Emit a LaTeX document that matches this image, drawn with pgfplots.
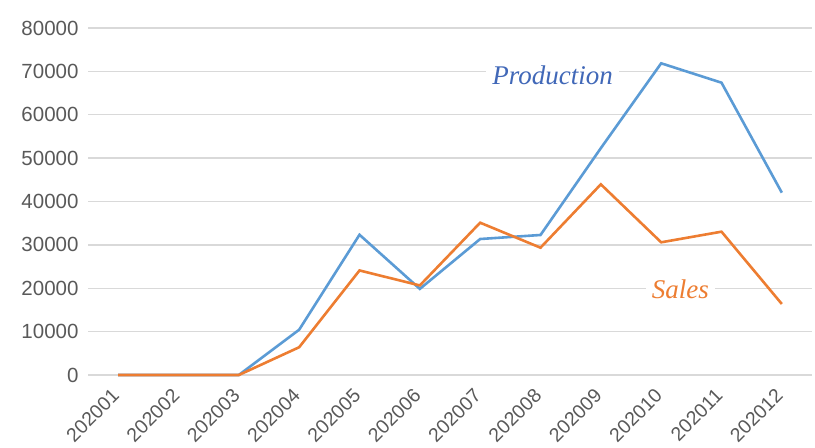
\documentclass[border=0pt]{standalone}
\usepackage{pgfplots}
\pgfplotsset{compat=1.18}
\usepackage{fontspec}
\setmainfont{Liberation Sans}
\newfontfamily\serifit{Liberation Serif}
\definecolor{prodc}{HTML}{5B9BD5}
\definecolor{salec}{HTML}{ED7D31}
\definecolor{prodlab}{HTML}{4168B8}
\definecolor{gridc}{HTML}{D9D9D9}
\definecolor{tickc}{HTML}{595959}
\begin{document}
\begin{tikzpicture}
\begin{axis}[
  scale only axis,
  width=724pt, height=347pt,
  xmin=-0.5, xmax=11.5,
  ymin=0, ymax=80000,
  ytick={0,10000,...,80000},
  xtick={0,...,11},
  xticklabels={202001,202002,202003,202004,202005,202006,202007,202008,202009,202010,202011,202012},
  axis line style={draw=none},
  major tick length=0pt,
  ymajorgrids,
  grid style={gridc, line width=1.3pt},
  scaled y ticks=false,
  /pgf/number format/assume math mode=true,
  yticklabel={\pgfmathprintnumber[fixed,use comma=false,1000 sep={}]{\tick}},
  ticklabel style={font=\fontsize{20.5}{24}\selectfont, text=tickc},
  yticklabel style={xshift=-6pt},
  xticklabel style={xshift=0pt, yshift=-15pt, rotate=45, anchor=east, font=\fontsize{19.5}{23}\selectfont},
  clip=false,
]
\addplot[prodc, line width=2.6pt] coordinates {
(0,0) (1,0) (2,0) (3,10440) (4,32330) (5,19850) (6,31350) (7,32280) (8,52300) (9,71860) (10,67390) (11,42030)
};
\addplot[salec, line width=2.6pt] coordinates {
(0,0) (1,0) (2,0) (3,6400) (4,24100) (5,20650) (6,35110) (7,29350) (8,43960) (9,30590) (10,33040) (11,16370)
};
\node[fill=white, inner sep=6pt, text=prodlab, font=\serifit\itshape\fontsize{27}{30}\selectfont] at (axis cs:7.2,69200) {Production};
\node[fill=white, inner sep=6pt, text=salec, font=\serifit\itshape\fontsize{27}{30}\selectfont] at (axis cs:9.32,19700) {Sales};
\end{axis}
\pgfresetboundingbox
\useasboundingbox ([xshift=-88pt,yshift=-73pt]current axis.south west) rectangle ([xshift=3pt,yshift=28pt]current axis.north east);
\end{tikzpicture}
\end{document}
